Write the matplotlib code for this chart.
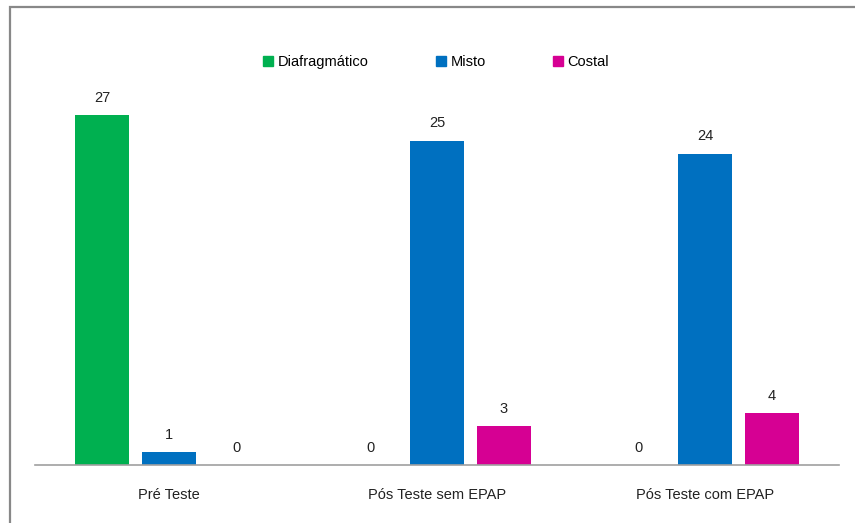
import matplotlib
matplotlib.use('Agg')
import matplotlib.pyplot as plt
from matplotlib.patches import Patch, Rectangle
import numpy as np

plt.rcParams['font.family'] = ['Liberation Sans', 'DejaVu Sans']

categories = ['Pré Teste', 'Pós Teste sem EPAP', 'Pós Teste com EPAP']
series = ['Diafragmático', 'Misto', 'Costal']
diafragmatico = [27, 0, 0]
misto = [1, 25, 24]
costal = [0, 3, 4]
colors = ['#00B050', '#0070C0', '#D60093']

fig = plt.figure(figsize=(8.55, 5.23), dpi=100)
ax = fig.add_axes([35 / 855, 58 / 523, 804 / 855, 389 / 523])

x = np.arange(len(categories))
width = 0.198
offsets = [-0.25, 0, 0.25]
for vals, off, col in zip([diafragmatico, misto, costal], offsets, colors):
    ax.bar(x + off, vals, width, color=col, zorder=2)
    for xi, v in zip(x, vals):
        ax.annotate(str(v), (xi + off, v), xytext=(0, 12.5), textcoords='offset points',
                    ha='center', va='center', fontsize=10.5, color='#222222')

ax.set_xlim(-0.5, 2.5)
ax.set_ylim(0, 30)
ax.set_xticks(x)
ax.set_xticklabels(categories, fontsize=10.5, color='#222222')
ax.tick_params(axis='x', length=0, pad=16.5)
ax.set_yticks([])
for s in ['top', 'right', 'left']:
    ax.spines[s].set_visible(False)
ax.spines['bottom'].set_color('#A0A0A0')
ax.spines['bottom'].set_linewidth(1.2)

handles = [Patch(color=c) for c in colors]
fig.legend(handles, series, loc='center', bbox_to_anchor=(436 / 855, 1 - 62 / 523),
           ncol=3, frameon=False, fontsize=10.5, handlelength=0.7, handleheight=0.7,
           handletextpad=0.3, columnspacing=4.6)

# outer chart border (only left/top visible in the crop)
fig.patches.append(Rectangle((9.5 / 855, -0.1), 1.2, 1 - 6.5 / 523 + 0.1,
                             transform=fig.transFigure, fill=False,
                             edgecolor='#888888', linewidth=1.6))

fig.savefig('out.png', dpi=100)
